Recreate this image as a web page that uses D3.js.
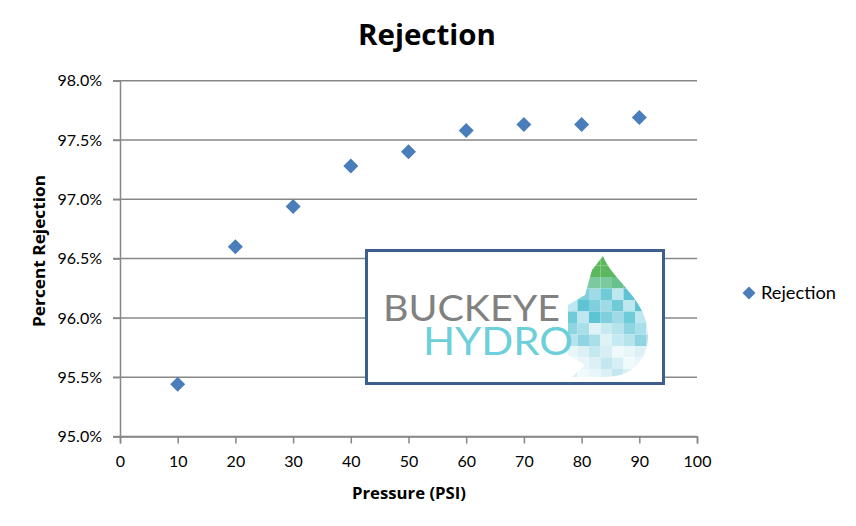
<!DOCTYPE html>
<html><head><meta charset="utf-8">
<script src="https://cdn.jsdelivr.net/npm/d3@7"></script>
<style>body{margin:0;background:#fff}svg{display:block}</style>
</head><body>
<script>
const pressure = [10, 20, 30, 40, 50, 60, 70, 80, 90];
const rejection = [95.44, 96.60, 96.94, 97.28, 97.40, 97.58, 97.63, 97.63, 97.69];
const xTicks = [0, 10, 20, 30, 40, 50, 60, 70, 80, 90, 100];
const yTicks = [95.0, 95.5, 96.0, 96.5, 97.0, 97.5, 98.0];
const seriesName = "Rejection";
const chartTitle = "Rejection";
const xTitle = "Pressure (PSI)";
const yTitle = "Percent Rejection";

const W = 856, H = 526;
const svg = d3.select("body").append("svg").attr("width", W).attr("height", H);
const font = "Lato, 'Open Sans', sans-serif";
const bold = "'Open Sans', Lato, sans-serif";
const x = d3.scaleLinear().domain([0, 100]).range([120, 697]);
const y = d3.scaleLinear().domain([95, 98]).range([436.5, 80.7]);

// gridlines
svg.append("g").selectAll("line").data(yTicks).join("line")
  .attr("x1", 113).attr("x2", 697)
  .attr("y1", d => y(d)).attr("y2", d => y(d))
  .attr("stroke", "#878787").attr("stroke-width", 1.5);

// y axis
const yAxis = svg.append("g").attr("transform", "translate(120,0)")
  .call(d3.axisLeft(y).tickValues(yTicks).tickFormat(d => d.toFixed(1) + "%").tickSize(7).tickPadding(11));
// x axis
const xAxis = svg.append("g").attr("transform", `translate(0,${y(95)})`)
  .call(d3.axisBottom(x).tickValues(xTicks).tickSize(7).tickPadding(12));
[yAxis, xAxis].forEach(a => {
  a.select(".domain").attr("stroke", "#878787").attr("stroke-width", 1.5);
  a.selectAll(".tick line").attr("stroke", "#878787").attr("stroke-width", 1.5);
  a.selectAll("text").attr("font-family", font).attr("font-size", 16).attr("fill", "#000");
});
xAxis.selectAll("text").attr("dy", "0.71em");

// titles
svg.append("text").attr("x", 358).attr("y", 45).attr("textLength", 138).attr("lengthAdjust", "spacingAndGlyphs")
  .attr("font-family", bold).attr("font-weight", "bold").attr("font-size", 29).text(chartTitle);
svg.append("text").attr("x", 352).attr("y", 499).attr("textLength", 114).attr("lengthAdjust", "spacingAndGlyphs")
  .attr("font-family", bold).attr("font-weight", "bold").attr("font-size", 16).text(xTitle);
svg.append("text").attr("transform", "translate(45,327) rotate(-90)").attr("textLength", 152).attr("lengthAdjust", "spacingAndGlyphs")
  .attr("font-family", bold).attr("font-weight", "bold").attr("font-size", 16).text(yTitle);

// markers
const diamond = (cx, cy, r) => `M${cx},${cy - r}L${cx + r},${cy}L${cx},${cy + r}L${cx - r},${cy}Z`;
svg.append("g").selectAll("path").data(pressure.map((p, i) => [p, rejection[i]])).join("path")
  .attr("d", d => diamond(x(d[0]), y(d[1]), 7.5)).attr("fill", "#4a7ebb");

// legend
svg.append("path").attr("d", diamond(749, 293, 6.5)).attr("fill", "#4a7ebb");
svg.append("text").attr("x", 761).attr("y", 299).attr("textLength", 75).attr("lengthAdjust", "spacingAndGlyphs")
  .attr("font-family", font).attr("font-size", 17.5).text(seriesName);

// logo box
const logo = svg.append("g");
logo.append("rect").attr("x", 366.5).attr("y", 250.5).attr("width", 297).attr("height", 133)
  .attr("fill", "#fff").attr("stroke", "#3c5f8d").attr("stroke-width", 3);
// droplet pixel mosaic
const defs = svg.append("defs");
defs.append("clipPath").attr("id", "drop").append("path")
  .attr("d", "M603,256 C612,280 648,300 648,335 C648,362 630,377 605,377 L572,377 L585,365 L568,355 L568,305 L585,295 L592,270 Z");
const cell = 11.5;
const cells = [];
for (let r = 0; r < 11; r++) for (let c = 0; c < 8; c++) cells.push([r, c]);
const cellColor = ([r, c]) => {
  const seed = (r * 7 + c * 13) % 5;
  if (r < 2) return c >= 2 && c <= 4 ? "#5cb85f" : "#8ccf8a";
  if (r < 3) return ["#7cc9a0", "#68c08c", "#7fcfb9"][seed % 3];
  if (r < 6) return ["#6fcbd8", "#5ec4d4", "#9fdbe6", "#bfe7ef", "#7fd0dc"][seed];
  if (r < 8) return ["#a9dfe9", "#c6eaf1", "#8fd5e1", "#dff3f7", "#b6e3ec"][seed];
  return ["#d5eff5", "#e8f6f9", "#c4e8f0", "#f0f9fb", "#dbf1f6"][seed];
};
logo.append("g").attr("clip-path", "url(#drop)").selectAll("rect").data(cells).join("rect")
  .attr("x", d => 568 + d[1] * cell - 2).attr("y", d => 254 + d[0] * cell)
  .attr("width", cell).attr("height", cell).attr("fill", cellColor);
const logoText = logo.append("text").attr("font-family", "Lato, sans-serif").attr("font-weight", 400);
logoText.append("tspan").attr("x", 383).attr("y", 321).attr("textLength", 177).attr("lengthAdjust", "spacingAndGlyphs")
  .attr("font-size", 37).attr("fill", "#818181").text("BUCKEYE");
logoText.append("tspan").attr("x", 423).attr("y", 355).attr("textLength", 150).attr("lengthAdjust", "spacingAndGlyphs")
  .attr("font-size", 39).attr("fill", "#6ccfd9").text("HYDRO");
</script>
</body></html>
